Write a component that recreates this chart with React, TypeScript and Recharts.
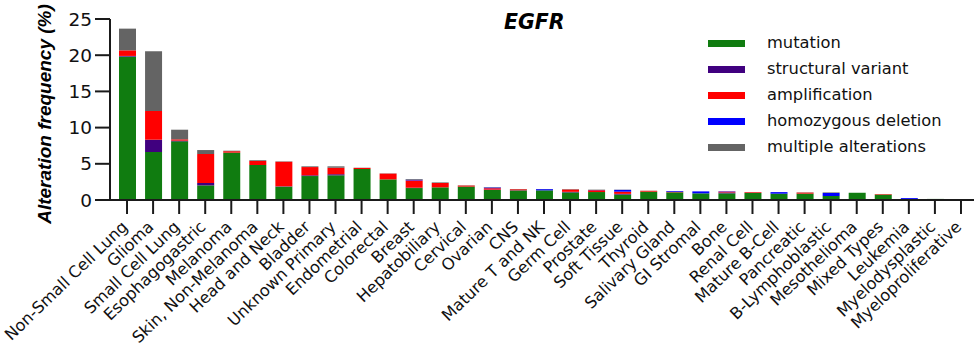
import React from 'react';
import { BarChart, Bar, XAxis, YAxis, Legend } from 'recharts';

const categories = [
  'Non-Small Cell Lung', 'Glioma', 'Small Cell Lung', 'Esophagogastric', 'Melanoma',
  'Skin, Non-Melanoma', 'Head and Neck', 'Bladder', 'Unknown Primary', 'Endometrial',
  'Colorectal', 'Breast', 'Hepatobiliary', 'Cervical', 'Ovarian', 'CNS', 'Mature T and NK',
  'Germ Cell', 'Prostate', 'Soft Tissue', 'Thyroid', 'Salivary Gland', 'GI Stromal', 'Bone',
  'Renal Cell', 'Mature B-Cell', 'Pancreatic', 'B-Lymphoblastic', 'Mesothelioma',
  'Mixed Types', 'Leukemia', 'Myelodysplastic', 'Myeloproliferative',
];
const mutation = [19.8, 6.63, 8.1, 2.02, 6.54, 4.83, 1.84, 3.31, 3.41, 4.28, 2.85, 1.65, 1.75, 1.85, 1.38, 1.3, 1.33, 1.05, 1.1, 0.75, 1.15, 1.06, 0.92, 0.92, 0.97, 0.87, 0.88, 0.55, 1.0, 0.75, 0.06, 0.15, 0];
const structuralVariant = [0.1, 1.7, 0.1, 0.33, 0, 0, 0.05, 0.1, 0.15, 0, 0, 0.05, 0, 0, 0.05, 0.05, 0, 0.08, 0, 0.1, 0, 0, 0, 0.12, 0, 0, 0, 0, 0, 0, 0, 0, 0];
const amplification = [0.77, 3.96, 0.18, 4.0, 0.2, 0.55, 3.4, 1.14, 0.9, 0.15, 0.8, 1.0, 0.6, 0.15, 0.2, 0.15, 0, 0.33, 0.25, 0.3, 0.12, 0.08, 0, 0.12, 0.1, 0, 0.15, 0, 0, 0.07, 0, 0, 0];
const homozygousDeletion = [0, 0, 0, 0, 0, 0, 0, 0, 0, 0, 0, 0.1, 0, 0, 0.1, 0, 0.17, 0, 0.03, 0.25, 0, 0.1, 0.27, 0.05, 0, 0.22, 0, 0.42, 0, 0, 0.2, 0, 0];
const multipleAlterations = [3.0, 8.24, 1.33, 0.55, 0.07, 0.1, 0.05, 0.1, 0.19, 0.03, 0.03, 0.1, 0.08, 0.03, 0.05, 0.03, 0.02, 0.05, 0.05, 0.03, 0.02, 0, 0, 0, 0.02, 0, 0.03, 0.08, 0, 0, 0, 0, 0];
const yTicks = [0, 5, 10, 15, 20, 25];
const seriesNames = ['mutation', 'structural variant', 'amplification', 'homozygous deletion', 'multiple alterations'];

const data = categories.map((name, i) => ({
  name,
  mutation: mutation[i],
  sv: structuralVariant[i],
  amp: amplification[i],
  homdel: homozygousDeletion[i],
  multi: multipleAlterations[i],
}));

const FONT = '"DejaVu Sans", sans-serif';

const XTick = (props: any) => {
  const { x, y, payload } = props;
  return (
    <g transform={`translate(${x + 1.5},${y + 12}) rotate(-44)`}>
      <text x={0} y={0} textAnchor="end" fontFamily={FONT} fontSize={16.2} fill="#111">
        {payload.value}
      </text>
    </g>
  );
};

const renderLegend = (props: any) => {
  const payload = [...(props.payload || [])].sort(
    (a: any, b: any) => seriesNames.indexOf(a.value) - seriesNames.indexOf(b.value)
  );
  return (
    <div style={{ fontFamily: FONT, fontSize: 16.3, color: '#111' }}>
      {payload.map((entry: any) => (
        <div key={entry.value} style={{ display: 'flex', alignItems: 'center', height: 26.1 }}>
          <div style={{ width: 37, height: 7, background: entry.color, marginRight: 22 }} />
          <span style={{ lineHeight: '16px', whiteSpace: 'nowrap' }}>{entry.value}</span>
        </div>
      ))}
    </div>
  );
};

export default function App() {
  return (
    <div style={{ position: 'absolute', left: 0, top: 0, width: 980, height: 349, background: '#fff' }}>
      <BarChart width={980} height={349} data={data} margin={{ top: 19, right: 6, bottom: 0, left: 0 }}>
        <XAxis
          dataKey="name"
          interval={0}
          height={149}
          padding={{ left: 4, right: 0 }}
          tick={<XTick />}
          tickSize={14}
          axisLine={{ stroke: '#1a1a1a', strokeWidth: 2 }}
          tickLine={{ stroke: '#1a1a1a', strokeWidth: 2 }}
        />
        <YAxis
          domain={[0, 25]}
          ticks={yTicks}
          width={110}
          tickSize={15}
          tickMargin={3}
          interval={0}
          axisLine={{ stroke: '#1a1a1a', strokeWidth: 2 }}
          tickLine={{ stroke: '#1a1a1a', strokeWidth: 2 }}
          tick={{ fontFamily: FONT, fontSize: 18.5, fill: '#111' }}
        />
        <Legend
          layout="vertical"
          align="center"
          verticalAlign="middle"
          content={renderLegend}
          wrapperStyle={{ left: 708, top: 30, width: 270 }}
        />
        <Bar dataKey="mutation" name={seriesNames[0]} stackId="a" fill="#107c10" barSize={17} isAnimationActive={false} />
        <Bar dataKey="sv" name={seriesNames[1]} stackId="a" fill="#40007f" barSize={17} isAnimationActive={false} />
        <Bar dataKey="amp" name={seriesNames[2]} stackId="a" fill="#ff0000" barSize={17} isAnimationActive={false} />
        <Bar dataKey="homdel" name={seriesNames[3]} stackId="a" fill="#0000ff" barSize={17} isAnimationActive={false} />
        <Bar dataKey="multi" name={seriesNames[4]} stackId="a" fill="#646464" barSize={17} isAnimationActive={false} />
      </BarChart>
      <div
        style={{
          position: 'absolute', left: 504, top: 12, fontFamily: FONT, fontSize: 20.5,
          fontWeight: 'bold', fontStyle: 'italic', lineHeight: '20px', color: '#000', whiteSpace: 'nowrap',
        }}
      >
        EGFR
      </div>
      <div
        style={{
          position: 'absolute', left: 44, top: 113.5, transform: 'translate(-50%, -50%) rotate(-90deg)',
          fontFamily: '"Liberation Sans", Arial, sans-serif', fontSize: 19, fontWeight: 'bold',
          fontStyle: 'italic', lineHeight: '19px', color: '#000', whiteSpace: 'nowrap',
        }}
      >
        Alteration frequency (%)
      </div>
    </div>
  );
}
